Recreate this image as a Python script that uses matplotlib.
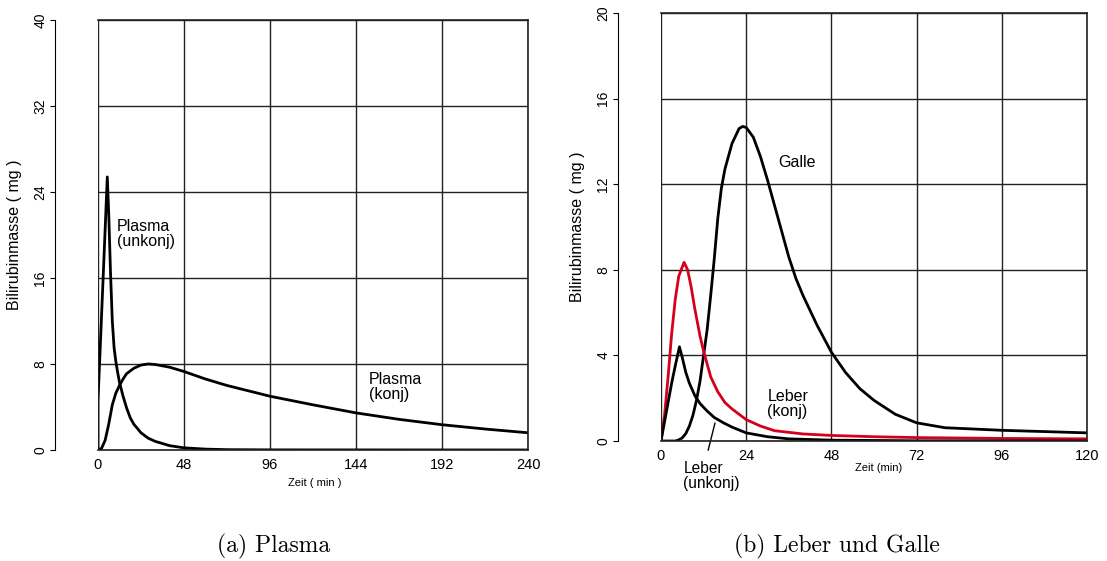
import matplotlib.pyplot as plt

plt.rcParams['font.family'] = ['Liberation Sans', 'DejaVu Sans']

# (a) Plasma
t_unkonj = [0, 0.01, 1, 2, 3, 4, 5.2, 6, 7, 8, 9, 10, 11, 12, 14, 16, 18, 20, 24, 28, 32,
            36, 40, 48, 60, 72, 96, 240]
plasma_unkonj = [0, 4.6, 8.5, 12.5, 16.5, 20.5, 25.4, 22, 16.5, 12, 9.5, 8.2, 7.2, 6.3, 5.0,
                 3.9, 3.0, 2.4, 1.6, 1.1, 0.8, 0.6, 0.4, 0.2, 0.08, 0.03, 0.01, 0]
t_konj = [0, 2, 4, 6, 8, 10, 12, 14, 16, 20, 24, 28, 32, 40, 48, 60, 72, 84, 96, 120, 144,
          168, 192, 216, 240]
plasma_konj = [0, 0.15, 0.9, 2.4, 4.2, 5.3, 6.0, 6.6, 7.1, 7.6, 7.9, 8.0, 7.95, 7.7, 7.3, 6.6,
               6.0, 5.5, 5.0, 4.2, 3.45, 2.85, 2.35, 1.95, 1.6]

# (b) Leber und Galle
t_galle = [0, 4, 5, 6, 7, 8, 9, 10, 11, 12, 13, 14, 15, 16, 17, 18, 20, 22, 23, 24, 26, 28,
           30, 32, 34, 36, 38, 40, 44, 48, 52, 56, 60, 66, 72, 80, 96, 120]
galle = [0, 0, 0.05, 0.15, 0.35, 0.7, 1.2, 1.9, 2.8, 4.0, 5.2, 6.8, 8.5, 10.4, 11.8, 12.7,
         13.9, 14.6, 14.7, 14.65, 14.2, 13.3, 12.2, 11.0, 9.8, 8.6, 7.6, 6.8, 5.4, 4.15, 3.2,
         2.45, 1.9, 1.25, 0.85, 0.62, 0.5, 0.38]
t_lk = [0, 1, 2, 3, 4, 5, 6.5, 7.5, 8.5, 9.5, 11, 12, 14, 16, 18, 20, 24, 28, 32, 40, 48, 60,
        72, 96, 120]
leber_konj = [0, 1.2, 3.0, 5.0, 6.6, 7.7, 8.35, 8.0, 7.2, 6.2, 4.9, 4.2, 3.0, 2.3, 1.8, 1.5,
              1.0, 0.7, 0.48, 0.33, 0.26, 0.2, 0.16, 0.12, 0.1]
t_lu = [0, 1, 2, 3, 4, 5.2, 6, 7, 8, 9.6, 11, 13, 15, 17.6, 20, 24, 30, 36, 48, 72, 120]
leber_unkonj = [0, 0.9, 1.8, 2.7, 3.5, 4.4, 3.9, 3.2, 2.7, 2.1, 1.75, 1.4, 1.1, 0.85, 0.65,
                0.38, 0.2, 0.1, 0.04, 0.01, 0]

fig = plt.figure(figsize=(11.07, 5.61), dpi=100)
ax1 = fig.add_axes([0.0885, 0.1979, 0.3885, 0.7665])
ax2 = fig.add_axes([0.5971, 0.2139, 0.3848, 0.7629])


def style(ax, xmax, xstep, ymax, ystep):
    ax.set_xlim(0, xmax)
    ax.set_ylim(0, ymax)
    ax.set_xticks(range(0, xmax + 1, xstep))
    ax.set_yticks(range(0, ymax + 1, ystep))
    ax.grid(True, color='#222222', lw=1)
    ax.axvline(0, color='#222222', lw=1.2)
    ax.spines['left'].set_position(('outward', 31))
    for s in ['top', 'right', 'bottom']:
        ax.spines[s].set_color('#222222')
        ax.spines[s].set_linewidth(1.2)
    ax.tick_params(axis='x', length=0, pad=6, labelsize=10.5)
    ax.tick_params(axis='y', length=3.6, direction='out', pad=2, labelsize=10)
    for lab in ax.get_yticklabels():
        lab.set_rotation(90)
        lab.set_va('center')
    ax.set_ylabel('Bilirubinmasse ( mg )', fontsize=11.5, labelpad=8)


ax1.plot(t_unkonj, plasma_unkonj, color='black', lw=2)
ax1.plot(t_konj, plasma_konj, color='black', lw=2)
style(ax1, 240, 48, 40, 8)
ax1.text(10.6, 21.5, 'Plasma\n(unkonj)', fontsize=11.5, va='top', linespacing=1.05)
ax1.text(151, 7.3, 'Plasma\n(konj)', fontsize=11.5, va='top', linespacing=1.05)
ax1.text(0.503, -0.076, 'Zeit ( min )', transform=ax1.transAxes, ha='center', va='center',
         fontsize=8)

ax2.plot(t_galle, galle, color='black', lw=2)
ax2.plot(t_lk, leber_konj, color='#d4001c', lw=2)
ax2.plot(t_lu, leber_unkonj, color='black', lw=2)
style(ax2, 120, 24, 20, 4)
ax2.text(33.0, 13.0, 'Galle', fontsize=11.5, va='center')
ax2.text(30.0, 2.45, 'Leber\n(konj)', fontsize=11.5, va='top', linespacing=1.05)
ax2.text(6.3, -0.92, 'Leber\n(unkonj)', fontsize=11.2, va='top', linespacing=1.05,
         clip_on=False)
ax2.plot([13.3, 15.2], [-0.42, 0.83], color='black', lw=1, clip_on=False)
ax2.text(0.512, -0.062, 'Zeit (min)', transform=ax2.transAxes, ha='center', va='center',
         fontsize=8)

fig.text(274 / 1107, 1 - 546 / 561, '(a) Plasma', family='cmr10', fontsize=17,
         ha='center', va='center')
fig.text(837 / 1107, 1 - 546 / 561, '(b) Leber und Galle', family='cmr10', fontsize=17,
         ha='center', va='center')

fig.savefig('out.png', dpi=100)
